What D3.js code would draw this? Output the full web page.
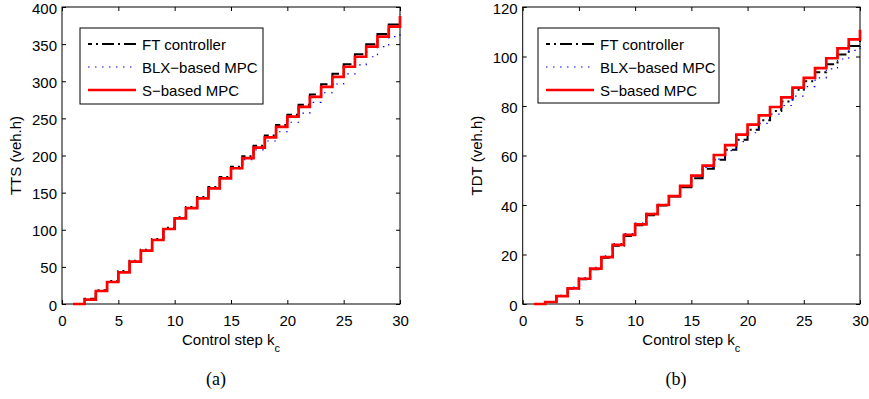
<!DOCTYPE html>
<html><head><meta charset="utf-8">
<script src="https://cdn.jsdelivr.net/npm/d3@7"></script>
<style>
body{margin:0;background:#fff}
svg{display:block}
</style>
</head><body>
<svg id="chart" width="869" height="399"></svg>
<script>
// ---- data ----
const steps = [1,2,3,4,5,6,7,8,9,10,11,12,13,14,15,16,17,18,19,20,21,22,23,24,25,26,27,28,29,30];
const xTicks = [0,5,10,15,20,25,30];
const ttsTicks = [0,50,100,150,200,250,300,350,400];
const tdtTicks = [0,20,40,60,80,100,120];
const seriesNames = ["FT controller","BLX\u2212based MPC","S\u2212based MPC"];

const ttsFT  = [0,7,18.5,31,44.3,58.4,73,87.5,102.8,116.7,130.5,144,157.5,171,185,199,213,227,241,255,268.5,282,296,310,323,336.5,350,363.5,376.5,390];
const ttsBLX = [0,6,17.8,30,43,57.5,72,86.8,101.5,116,129.5,142.5,156,169,181.8,194.5,207.5,219.5,232,244.8,257,271.5,284.5,296.3,309.8,322,333,346.6,360,370];
const ttsS   = [0,5.8,17.5,29.6,42.6,57,71.8,86.2,101,115.4,129,142.3,155.8,169.3,182.8,196.5,210.5,224.5,238.5,252.3,265.5,279,292.5,306,319.5,333,346.5,360,373.5,388];

const tdtFT  = [0,0.8,3.2,6.3,10,14,18.7,23.5,27.5,31.8,35.9,39.8,43.4,47.2,50.8,54.6,58.3,62.3,66.4,70.4,74.2,78,81.8,86.6,90,93.6,96.9,100.8,104.2,107.5];
const tdtBLX = [0,1,3.5,6.8,10.7,14.8,19.5,24.4,28.4,32.7,36.6,40.3,43.7,47.6,51.5,55.2,58.5,62,65.6,69.2,73,76.7,80.2,84,87.8,91.4,95,99,102.5,105.5];
const tdtS   = [0,0.8,3.2,6.3,10.2,14.3,18.9,23.9,27.9,32.2,36.3,40,43.6,47.7,51.9,55.9,60.2,64.2,68.4,72.5,76.2,79.6,83.5,87.4,91.4,95.3,99.3,103.3,106.9,110.8];

// ---- styles ----
const styles = [
  {color:"#000000", width:2,   dash:"12,4,2,4"},
  {color:"#0000ff", width:1.2, dash:"1.5,5.5"},
  {color:"#ff0000", width:2.7, dash:null}
];
const SANS = '"Liberation Sans", Arial, Helvetica, sans-serif';
const SERIF = '"Liberation Serif", "Times New Roman", serif';

const panels = [
  {left:62, right:400, top:7, bottom:304, yMax:400, yTicks:ttsTicks, ylabel:"TTS (veh.h)", ylabelX:21,
   legend:{x:80,y:28,w:183,h:76}, caption:"(a)", captionX:216, data:[ttsFT,ttsBLX,ttsS]},
  {left:522.7, right:860, top:7, bottom:304, yMax:120, yTicks:tdtTicks, ylabel:"TDT (veh.h)", ylabelX:482,
   legend:{x:538,y:28,w:181,h:75}, caption:"(b)", captionX:676, data:[tdtFT,tdtBLX,tdtS]}
];

const svg = d3.select("#chart");

function styleAxis(g){
  g.select(".domain").remove();
  g.selectAll(".tick line").attr("stroke","#000").attr("stroke-width",1);
  g.selectAll("text").attr("font-family",SANS).attr("font-size",15).attr("fill","#000");
}

panels.forEach((p,pi)=>{
  const x = d3.scaleLinear().domain([0,30]).range([p.left,p.right]);
  const y = d3.scaleLinear().domain([0,p.yMax]).range([p.bottom,p.top]);
  const g = svg.append("g");

  // axes (ticks inside, on all four sides)
  g.append("g").attr("transform",`translate(0,${p.bottom})`)
    .call(d3.axisBottom(x).tickValues(xTicks).tickSize(-4).tickPadding(11).tickFormat(d3.format("d")))
    .call(styleAxis);
  g.append("g").attr("transform",`translate(0,${p.top})`)
    .call(d3.axisTop(x).tickValues(xTicks).tickSize(-4).tickFormat(""))
    .call(styleAxis);
  g.append("g").attr("transform",`translate(${p.left},0)`)
    .call(d3.axisLeft(y).tickValues(p.yTicks).tickSize(-4).tickPadding(5).tickFormat(d3.format("d")))
    .call(styleAxis)
    .call(a=>a.selectAll("text").attr("dy","0.4em"));
  g.append("g").attr("transform",`translate(${p.right},0)`)
    .call(d3.axisRight(y).tickValues(p.yTicks).tickSize(-4).tickFormat(""))
    .call(styleAxis);

  // frame
  g.append("rect").attr("x",p.left).attr("y",p.top)
    .attr("width",p.right-p.left).attr("height",p.bottom-p.top)
    .attr("fill","none").attr("stroke","#000").attr("stroke-width",1);

  // series (stairs)
  const line = d3.line().x((d,i)=>x(steps[i])).y(d=>y(d)).curve(d3.curveStepAfter);
  p.data.forEach((vals,si)=>{
    const s = styles[si];
    g.append("path").datum(vals).attr("d",line)
      .attr("fill","none").attr("stroke",s.color).attr("stroke-width",s.width)
      .attr("stroke-dasharray",s.dash).attr("stroke-linejoin","miter");
  });

  // axis labels
  const xl = g.append("text").attr("x",(p.left+p.right)/2).attr("y",344.5)
    .attr("text-anchor","middle").attr("font-family",SANS).attr("font-size",15).attr("fill","#000");
  xl.append("tspan").text("Control step k");
  xl.append("tspan").attr("dy",7).attr("font-size",11).text("c");

  g.append("text").attr("transform",`translate(${p.ylabelX},${(p.top+p.bottom)/2}) rotate(-90)`)
    .attr("text-anchor","middle").attr("font-family",SANS).attr("font-size",15).attr("fill","#000")
    .text(p.ylabel);

  // caption
  g.append("text").attr("x",p.captionX).attr("y",385).attr("text-anchor","middle")
    .attr("font-family",SERIF).attr("font-size",18).attr("fill","#000").text(p.caption);

  // legend
  const L = p.legend;
  const lg = g.append("g");
  lg.append("rect").attr("x",L.x).attr("y",L.y).attr("width",L.w).attr("height",L.h)
    .attr("fill","#fff").attr("stroke","#000").attr("stroke-width",1);
  seriesNames.forEach((name,si)=>{
    const cy = L.y + 16 + si*23;
    const s = styles[si];
    lg.append("line").attr("x1",L.x+8).attr("x2",L.x+56).attr("y1",cy).attr("y2",cy)
      .attr("stroke",s.color).attr("stroke-width",s.width).attr("stroke-dasharray",s.dash)
      .attr("stroke-dashoffset", si===0 ? 8 : 0);
    lg.append("text").attr("x",L.x+62).attr("y",cy+5.5)
      .attr("font-family",SANS).attr("font-size",15).attr("fill","#000").text(name);
  });
});
</script>
</body></html>
